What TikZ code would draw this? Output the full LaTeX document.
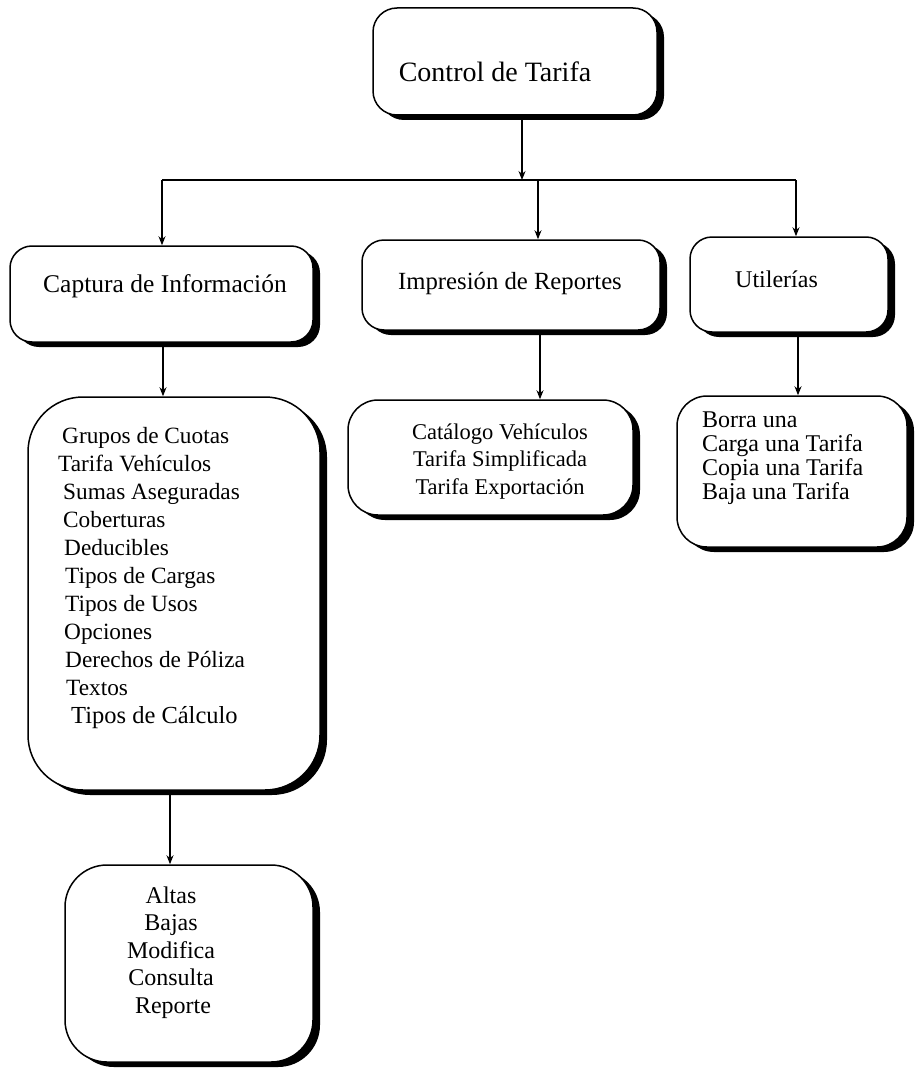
\documentclass[tikz,border=0pt]{standalone}
\usepackage{fontspec}
\setmainfont{Liberation Serif}
\usetikzlibrary{shadows,arrows.meta}
\begin{document}
\begin{tikzpicture}[x=1pt,y=-1pt,
  box/.style={draw=black, line width=1.5pt, fill=white, inner sep=0pt,
    drop shadow={shadow xshift=7pt, shadow yshift=-5pt, fill=black, opacity=1}},
  lbl/.style={inner sep=0pt, anchor=base, text=black},
  item/.style={inner sep=0pt, anchor=base west, text=black},
  conn/.style={line width=1.3pt},
  arr/.style={conn, -{Stealth[length=9pt,width=7pt]}}
]
\useasboundingbox[fill=white] (0,0) rectangle (914,1070);

% boxes
\node[box, rounded corners=24pt, minimum width=284pt, minimum height=107pt] (title) at (515,61.5) {};
\node[box, rounded corners=22pt, minimum width=303pt, minimum height=96pt] (captura) at (161.5,294) {};
\node[box, rounded corners=22pt, minimum width=298pt, minimum height=90pt] (impresion) at (511,285) {};
\node[box, rounded corners=22pt, minimum width=198pt, minimum height=95pt] (utilerias) at (789,284.5) {};
\node[box, rounded corners=55pt, minimum width=292pt, minimum height=393pt] (grupos) at (174,593.5) {};
\node[box, rounded corners=30pt, minimum width=285pt, minimum height=115pt] (catalogo) at (490.5,457.5) {};
\node[box, rounded corners=30pt, minimum width=230pt, minimum height=151pt] (borra) at (792,471.5) {};
\node[box, rounded corners=42pt, minimum width=248pt, minimum height=197pt] (altas) at (189,963.5) {};

% titles
\node[lbl, font=\fontsize{28}{32}\selectfont] (tTitle) at (495,82) {Control de Tarifa};
\node[lbl, font=\fontsize{25.5}{30}\selectfont] (tCaptura) at (165,292) {Captura de Información};
\node[lbl, font=\fontsize{24.7}{29}\selectfont] (tImpresion) at (510,289) {Impresión de Reportes};
\node[lbl, font=\fontsize{24}{28}\selectfont] (tUtil) at (776.5,287) {Utilerías};

% Grupos list
\foreach \t/\x [count=\i] in {Grupos de Cuotas/62, Tarifa Vehículos/58, Sumas Aseguradas/63,
  Coberturas/63, Deducibles/64, Tipos de Cargas/65, Tipos de Usos/65, Opciones/64,
  Derechos de Póliza/65, Textos/66}
  \node[item, font=\fontsize{23.3}{28}\selectfont] (g\i) at (\x,{443+28*(\i-1)}) {\t};
\node[item, font=\fontsize{24.5}{28}\selectfont] (g11) at (71,723) {Tipos de Cálculo};

% Catalogo list
\foreach \t [count=\i] in {Catálogo Vehículos, Tarifa Simplificada, Tarifa Exportación}
  \node[lbl, font=\fontsize{22.5}{27}\selectfont] (c\i) at (500,{439+27.5*(\i-1)}) {\t};

% Borra list
\foreach \t [count=\i] in {Borra una, Carga una Tarifa, Copia una Tarifa, Baja una Tarifa}
  \node[item, font=\fontsize{24}{24}\selectfont] (b\i) at (702,{427+24*(\i-1)}) {\t};

% Altas list
\foreach \t/\x [count=\i] in {Altas/171, Bajas/171, Modifica/171, Consulta/171, Reporte/173}
  \node[lbl, font=\fontsize{24}{28}\selectfont] (a\i) at (\x,{903+27.5*(\i-1)}) {\t};

% connectors
\coordinate (busT) at (522,180);
\coordinate (busL) at (162,180);
\coordinate (busM) at (538,180);
\coordinate (busR) at (796,180);
\coordinate (xc) at (163,0);
\coordinate (xi) at (540,0);
\coordinate (xu) at (798,0);
\coordinate (xg) at (170,0);

\draw[arr] (title.south -| busT) -- (busT);
\draw[conn] (busL) -- (busR);
\draw[arr] (busL) -- (captura.north -| busL);
\draw[arr] (busM) -- (impresion.north -| busM);
\draw[arr] (busR) -- (utilerias.north -| busR);
\draw[arr] (captura.south -| xc) -- (grupos.north -| xc);
\draw[arr] (impresion.south -| xi) -- (catalogo.north -| xi);
\draw[arr] (utilerias.south -| xu) -- (borra.north -| xu);
\draw[arr] (grupos.south -| xg) -- (altas.north -| xg);
\end{tikzpicture}
\end{document}
